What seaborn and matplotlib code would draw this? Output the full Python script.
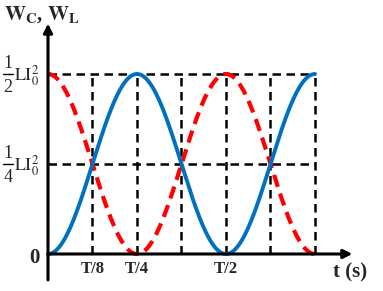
import numpy as np
import pandas as pd
import seaborn as sns
import matplotlib
matplotlib.use("Agg")
import matplotlib.pyplot as plt

# --- data (in units of period T and of LI0^2) ---
amplitude = 0.5            # (1/2) L I0^2
t_end = 0.75               # curves drawn up to 3T/4
grid_times = [0.125, 0.25, 0.375, 0.5, 0.625, 0.75]
grid_levels = [0.25, 0.5]
tick_pos = [0.125, 0.25, 0.5]
tick_labels = ["T/8", "T/4", "T/2"]
frac_levels = [0.5, 0.25]
frac_denoms = ["2", "4"]

t = np.linspace(0, t_end, 400)
w_l = amplitude * np.sin(2 * np.pi * t) ** 2
w_c = amplitude * np.cos(2 * np.pi * t) ** 2
df = pd.DataFrame({"t": np.concatenate([t, t]),
                   "W": np.concatenate([w_l, w_c]),
                   "s": ["L"] * len(t) + ["C"] * len(t)})

sns.set_style("white")
plt.rcParams["mathtext.fontset"] = "stix"
plt.rcParams["font.family"] = ["Liberation Serif", "DejaVu Serif"]

fig = plt.figure(figsize=(3.83, 2.91), dpi=100)
ax = fig.add_axes([0, 0, 1, 1])
ax.set_xlim(-48 / 356, 335 / 356)
ax.set_ylim(-37 / 360, 254 / 360)
ax.axis("off")

# dashed guides
for g in grid_levels:
    ax.plot([0, t_end], [g, g], color="black", lw=1.8, ls=(0, (3.4, 2.2)), zorder=1)
for g in grid_times:
    ax.plot([g, g], [0, amplitude], color="black", lw=1.8, ls=(0, (3.4, 2.2)), zorder=1)

sns.lineplot(data=df[df.s == "L"], x="t", y="W", color="#0070C0", lw=2.8, ax=ax, zorder=3)
sns.lineplot(data=df[df.s == "C"], x="t", y="W", color="#FF0000", lw=3.0, ax=ax, zorder=2)
ax.lines[-1].set_linestyle((0, (3.0, 1.7)))

# axes with arrows
ax.annotate("", xy=(0.855, 0), xytext=(0, 0),
            arrowprops=dict(arrowstyle="-|>", lw=2.2, color="black", mutation_scale=13,
                            shrinkA=0, shrinkB=0), zorder=4)
ax.annotate("", xy=(0, 0.64), xytext=(0, -0.072),
            arrowprops=dict(arrowstyle="-|>", lw=2.2, color="black", mutation_scale=13,
                            shrinkA=0, shrinkB=0), zorder=4)

for p, lab in zip(tick_pos, tick_labels):
    ax.text(p, -0.043, lab, ha="center", va="center", fontsize=12, fontweight="bold")

# y labels: built fractions  (1/n) LI0^2
px = 1 / 356.0   # one pixel in x data units
py = 1 / 360.0   # one pixel in y data units
for lev, den in zip(frac_levels, frac_denoms):
    xc = -40 * px
    ax.text(xc, lev + 11 * py, "1", ha="center", va="center", fontsize=13)
    ax.text(xc, lev - 13 * py, den, ha="center", va="center", fontsize=13)
    ax.plot([xc - 5 * px, xc + 5 * px], [lev, lev], color="black", lw=1.0, clip_on=False)
    ax.text(-34 * px, lev - 2 * py, r"$\mathrm{LI}_0^2$", ha="left", va="center", fontsize=13)

ax.text(-8 * px, -4 * py, "0", ha="right", va="center", fontsize=15, fontweight="bold")

ax.text(-0.125, 0.665, r"$\mathbf{W_C}$, $\mathbf{W_L}$", ha="left", va="center", fontsize=15,
        fontweight="bold")
ax.text(0.848, -0.05, "t (s)", ha="center", va="center", fontsize=15, fontweight="bold")

fig.savefig("out.png", dpi=100)
